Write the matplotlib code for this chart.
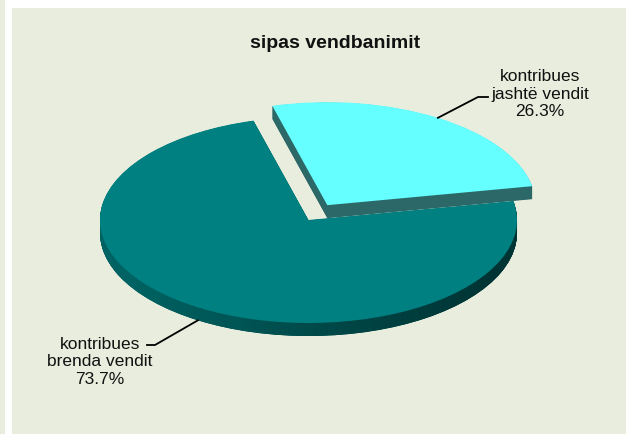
import numpy as np
import matplotlib.pyplot as plt
from matplotlib.patches import Rectangle
from matplotlib.lines import Line2D
from matplotlib.colors import LinearSegmentedColormap

# data
labels = ['kontribues\nbrenda vendit', 'kontribues\njashtë vendit']
shares = [73.7, 26.3]
pct_text = ['73.7%', '26.3%']
title = 'sipas vendbanimit'

top_colors = ['#008080', '#66FFFF']
side_colors = ['#005555', '#2D6868']
explode = [0.0, 0.17]

W, H = 626, 435
BG = '#E9EDDE'

# pie ellipse in pixels (center, half axes, side depth)
cx, cy, rx, ry = 308.5, 221.0, 208.5, 103.0
depth_px = 13.0
nlayers = 26
start = 105.3

plt.rcParams['font.family'] = ['Liberation Sans', 'DejaVu Sans']

fig = plt.figure(figsize=(W / 100, H / 100), dpi=100)
fig.patch.set_facecolor(BG)

# white frame strips on the left / top
fig.add_artist(Rectangle((5 / W, 0), 7 / W, 1, transform=fig.transFigure,
                         facecolor='white', edgecolor='none'))
fig.add_artist(Rectangle((5 / W, 1 - 9 / H), 1, 9 / H, transform=fig.transFigure,
                         facecolor='white', edgecolor='none'))

ax = fig.add_axes([0, 0, 1, 1])
ax.set_facecolor('none')

side_cmap = LinearSegmentedColormap.from_list('side', ['#007070', '#004848', '#002424'])
grad = np.linspace(0, 1, 256).reshape(1, -1)

z = 1
bottom_wedges = None
# side: stacked copies shifted downwards
for k in range(nlayers, 0, -1):
    off = k * depth_px / nlayers / ry
    wedges, _ = ax.pie(shares, explode=explode, startangle=start, colors=side_colors,
                       center=(0, -off), wedgeprops=dict(linewidth=0))
    if bottom_wedges is None:
        bottom_wedges = wedges
    for w in wedges:
        w.set_zorder(z)
    img = ax.imshow(grad, extent=(-1, 1, -2, 2), cmap=side_cmap, aspect='auto',
                    zorder=z, interpolation='bilinear')
    img.set_clip_path(wedges[0])
    z += 1

# top faces
top_wedges, _ = ax.pie(shares, explode=explode, startangle=start, colors=top_colors,
                       wedgeprops=dict(linewidth=0))
for w in top_wedges:
    w.set_zorder(z + 1)

ax.set_aspect('auto')
ax.set_xlim(-cx / rx, (W - cx) / rx)
ax.set_ylim(-(H - cy) / ry, cy / ry)
ax.axis('off')


def to_px(w):
    mid = np.deg2rad((w.theta1 + w.theta2) / 2)
    x = w.center[0] + w.r * np.cos(mid)
    y = w.center[1] + w.r * np.sin(mid)
    return cx + x * rx, cy - y * ry


def line_px(xs, ys):
    fig.add_artist(Line2D([x / W for x in xs], [1 - y / H for y in ys],
                          transform=fig.transFigure, color='black', lw=1.3, zorder=50))


# leader for the inside-country slice (anchored on the bottom rim)
ax0, ay0 = to_px(bottom_wedges[0])
line_px([ax0, 155, 147], [ay0, 346, 346])
fig.text(100 / W, 1 - 362 / H, labels[0] + '\n' + pct_text[0], ha='center', va='center',
         fontsize=12.5, color='#111111', linespacing=1.2)

# leader for the abroad slice
ax1, ay1 = to_px(top_wedges[1])
line_px([ax1, 478, 488], [ay1, 98, 98])
fig.text(540 / W, 1 - 94 / H, labels[1] + '\n' + pct_text[1], ha='center', va='center',
         fontsize=12.5, color='#111111', linespacing=1.2)

fig.text(335 / W, 1 - 48 / H, title, ha='center', va='baseline',
         fontsize=14, fontweight='bold', color='#111111')

fig.savefig('out.png', dpi=100, facecolor=BG)
